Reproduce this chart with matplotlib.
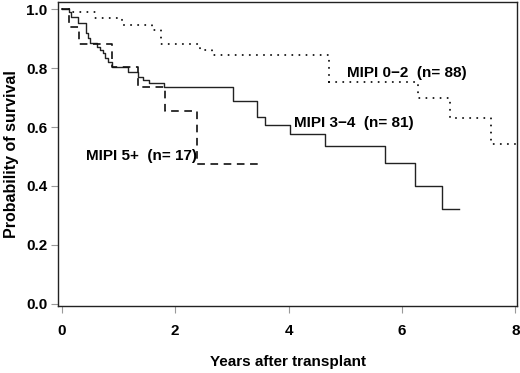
import matplotlib
matplotlib.use("Agg")
import matplotlib.pyplot as plt

plt.rcParams['font.family'] = ['Liberation Sans', 'DejaVu Sans']
plt.rcParams['lines.scale_dashes'] = False

# MIPI 0-2 (dotted)
t_low = [0, 0.15, 0.59, 1.06, 1.59, 1.76, 2.44, 2.65, 4.71, 6.28, 6.84, 7.57]
s_low = [1.0, 0.99, 0.97, 0.947, 0.93, 0.882, 0.862, 0.845, 0.754, 0.698, 0.632, 0.543]
end_low = 7.99

# MIPI 3-4 (solid)
t_mid = [0, 0.13, 0.17, 0.29, 0.42, 0.46, 0.50, 0.62, 0.67, 0.73, 0.76, 0.82, 0.88,
         1.17, 1.34, 1.44, 1.54, 1.81, 3.02, 3.44, 3.58, 4.03, 4.64, 5.70, 6.23, 6.70]
s_mid = [1.0, 0.992, 0.975, 0.955, 0.919, 0.902, 0.885, 0.874, 0.862, 0.851, 0.834, 0.822, 0.803,
         0.786, 0.772, 0.760, 0.749, 0.737, 0.689, 0.635, 0.607, 0.577, 0.536, 0.479, 0.401, 0.320]
end_mid = 7.01

# MIPI 5+ (dashed)
t_high = [0, 0.13, 0.30, 0.88, 1.35, 1.83, 2.38]
s_high = [1.0, 0.941, 0.882, 0.806, 0.735, 0.655, 0.475]
end_high = 3.53

x_ticks = [0, 2, 4, 6, 8]
y_ticks = [0.0, 0.2, 0.4, 0.6, 0.8, 1.0]

fig = plt.figure(figsize=(5.2, 3.73), dpi=100)
ax = fig.add_axes([58.3 / 520, 1 - 306 / 373, (517 - 58.3) / 520, (306 - 2) / 373])

def km(t, s, end):
    return list(t) + [end], list(s) + [s[-1]]

x, y = km(t_low, s_low, end_low)
ax.step(x, y, where='post', color='#111111', lw=1.4, linestyle=(0, (0.1, 5.0)),
        dash_capstyle='round')
x, y = km(t_mid, s_mid, end_mid)
ax.step(x, y, where='post', color='#222222', lw=1.0)
x, y = km(t_high, s_high, end_high)
ax.step(x, y, where='post', color='#111111', lw=1.2, linestyle=(0, (5.5, 4)))

ax.set_xlim(-0.06, 8.03)
ax.set_ylim(-0.0085, 1.0255)
ax.set_xticks(x_ticks)
ax.set_xticklabels([str(v) for v in x_ticks], fontweight='bold', fontsize=11)
ax.set_yticks(y_ticks)
ax.set_yticklabels([f"{v:.1f}" for v in y_ticks], fontweight='bold', fontsize=11)
ax.tick_params(axis='both', direction='out', length=5, width=0.8, color='#999999', pad=3)
ax.tick_params(axis='x', pad=8)

for sp in ax.spines.values():
    sp.set_linewidth(1.0)
    sp.set_color('#222222')

ax.set_xlabel('Years after transplant', fontweight='bold', fontsize=11, labelpad=12)
ax.set_ylabel('Probability of survival', fontweight='bold', fontsize=11.5, labelpad=5)

ax.text(5.04, 0.783, 'MIPI 0\u22122  (n= 88)', fontweight='bold', fontsize=11,
        va='center', ha='left')
ax.text(4.1, 0.613, 'MIPI 3\u22124  (n= 81)', fontweight='bold', fontsize=11,
        va='center', ha='left')
ax.text(0.42, 0.503, 'MIPI 5+  (n= 17)', fontweight='bold', fontsize=11,
        va='center', ha='left')

fig.savefig('out.png', dpi=100)
